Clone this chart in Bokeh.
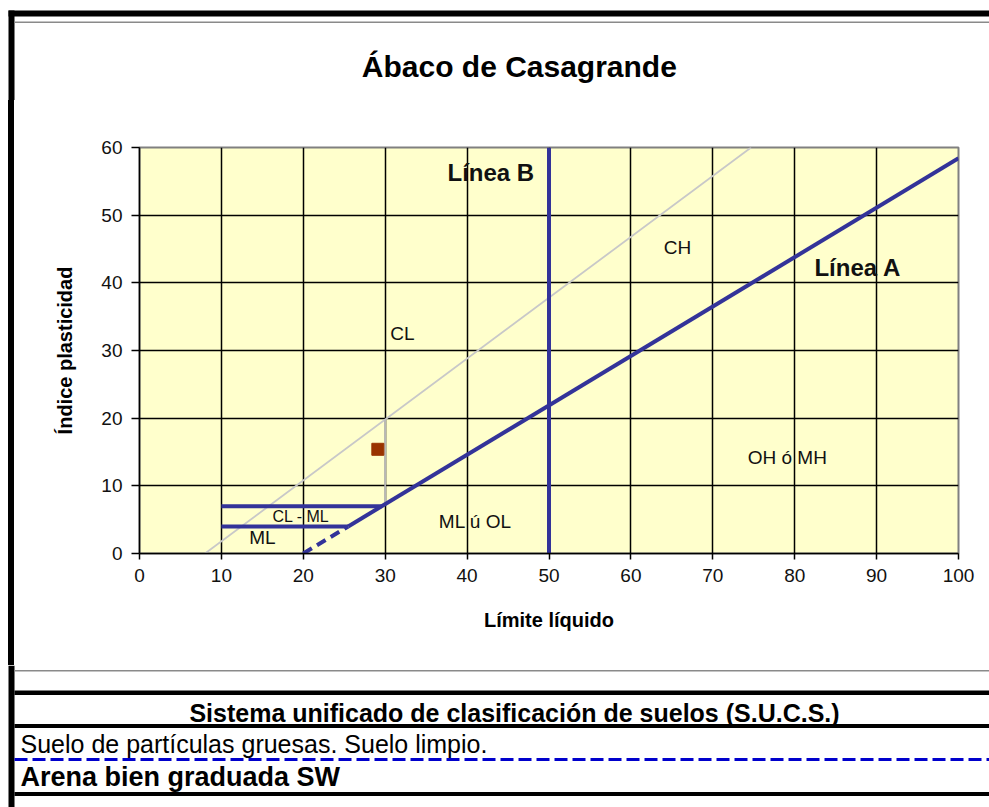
from bokeh.plotting import figure
from bokeh.layouts import column, row
from bokeh.models import Range1d, FixedTicker, Spacer
from bokeh.core.properties import value
from bokeh.embed import file_html
from bokeh.resources import INLINE

# ---------------- data ----------------
ll_ticks = [0, 10, 20, 30, 40, 50, 60, 70, 80, 90, 100]
pi_ticks = [0, 10, 20, 30, 40, 50, 60]

lineA_ll = [25.48, 100.0]          # Línea A: IP = 0.73 (LL - 20)
lineA_pi = [4.0, 58.4]
lineA_ext_ll = [20.0, 25.48]       # dashed extension
lineA_ext_pi = [0.0, 4.0]
lineB_ll = [50.0, 50.0]            # Línea B
lineB_pi = [0.0, 60.0]
lineU_ll = [8.0, 74.67]            # upper limit line (grey)
lineU_pi = [0.0, 60.0]
uvert_ll = [30.0, 30.0]
uvert_pi = [7.3, 19.8]
clml_top_ll = [10.0, 29.59]
clml_top_pi = [7.0, 7.0]
clml_bot_ll = [10.0, 25.48]
clml_bot_pi = [4.0, 4.0]

sample_ll = [29.1]
sample_pi = [15.4]

zone_names = ["CL", "CH", "ML ú OL", "OH ó MH", "ML"]
zone_ll = [32.1, 65.7, 41.0, 79.1, 15.0]
zone_pi = [32.5, 45.2, 4.7, 14.2, 2.4]
small_zone_names = ["CL - ML"]
small_zone_ll = [19.7]
small_zone_pi = [5.5]
line_names = ["Línea B", "Línea A"]
line_names_ll = [42.9, 87.7]
line_names_pi = [56.3, 42.3]

title_text = ["Ábaco  de Casagrande"]
x_label = "Límite líquido"
y_label = "Índice plasticidad"
table_head = ["Sistema unificado de clasificación de suelos (S.U.C.S.)"]
table_row1 = ["Suelo de partículas gruesas. Suelo limpio."]
table_row2 = ["Arena bien graduada SW"]

# ---------------- layout constants (page pixels) ----------------
W, H = 989, 807
TOP_H = 100          # title strip: y 0..100
MID_Y1 = 665         # chart row: y 100..665
LEFT_W = 14          # left border strip
FL, FR, FT, FB = 139, 958, 147, 553   # plot frame
FONT = "Liberation Sans"
BLUE = "#333399"


def deco_fig(x0, y0, w, h):
    f = figure(width=w, height=h, x_range=Range1d(x0, x0 + w), y_range=Range1d(y0 + h, y0),
               output_backend="svg", toolbar_location=None, min_border=0,
               x_axis_type=None, y_axis_type=None, outline_line_color=None,
               background_fill_color="white", border_fill_color="white")
    f.xgrid.visible = False
    f.ygrid.visible = False
    return f


# ---- top strip: outer frame + title
top = deco_fig(0, 0, W, TOP_H)
top.quad(left=[8], right=[W], top=[10], bottom=[16], fill_color="black", line_color=None)
top.quad(left=[8], right=[14], top=[10], bottom=[TOP_H], fill_color="black", line_color=None)
top.quad(left=[14], right=[W], top=[21], bottom=[22.5], fill_color="#8a8a8a", line_color=None)
top.text(x=[523], y=[66], text=title_text, text_align="center", text_baseline="middle",
         text_font=value(FONT), text_font_size="30px", text_font_style="bold",
         text_color="black")

# ---- left border next to the chart (plain boxes, no frame alignment)
CH = MID_Y1 - TOP_H
gap = Spacer(width=8, height=CH)
border = Spacer(width=6, height=CH, styles={"background-color": "black"})

# ---- chart
CW = W - LEFT_W
p = figure(width=CW, height=CH, x_range=Range1d(0, 100), y_range=Range1d(0, 60),
           output_backend="svg", toolbar_location=None,
           min_border_left=FL - LEFT_W, min_border_right=W - FR,
           min_border_top=FT - TOP_H, min_border_bottom=MID_Y1 - FB,
           background_fill_color="#FFFFCC", border_fill_color="white",
           outline_line_color="#808080", outline_line_width=2)

for ax, ticks in ((p.xaxis, ll_ticks), (p.yaxis, pi_ticks)):
    ax.ticker = FixedTicker(ticks=ticks)
    ax.major_label_text_font = FONT
    ax.major_label_text_font_size = "19px"
    ax.major_label_text_color = "#111111"
    ax.axis_line_color = "black"
    ax.axis_line_width = 1.5
    ax.major_tick_line_color = "black"
    ax.major_tick_line_width = 1.5
    ax.major_tick_in = 0
    ax.minor_tick_line_color = None
    ax.axis_label_text_font = FONT
    ax.axis_label_text_font_style = "bold"
    ax.axis_label_text_font_size = "20px"
    ax.axis_label_text_color = "black"

p.xaxis.major_tick_out = 6
p.yaxis.major_tick_out = 8
p.xaxis.major_label_standoff = 9
p.yaxis.major_label_standoff = 9
p.xaxis.axis_label = x_label
p.yaxis.axis_label = y_label
p.xaxis.axis_label_standoff = 24
p.yaxis.axis_label_standoff = 22

p.xgrid.ticker = FixedTicker(ticks=ll_ticks[1:-1])
p.ygrid.ticker = FixedTicker(ticks=pi_ticks[1:-1])
for g in (p.xgrid, p.ygrid):
    g.grid_line_color = "black"
    g.grid_line_width = 1.5
    g.grid_line_alpha = 1.0

p.line(lineU_ll, lineU_pi, line_color="#C8C8C8", line_width=1.8)
p.line(uvert_ll, uvert_pi, line_color="#B8B8B8", line_width=1.8)
p.line(lineB_ll, lineB_pi, line_color=BLUE, line_width=4)
p.line(lineA_ll, lineA_pi, line_color=BLUE, line_width=4)
p.line(lineA_ext_ll, lineA_ext_pi, line_color=BLUE, line_width=4, line_dash="10 6")
p.line(clml_top_ll, clml_top_pi, line_color=BLUE, line_width=4)
p.line(clml_bot_ll, clml_bot_pi, line_color=BLUE, line_width=4)

p.scatter(sample_ll, sample_pi, marker="square", size=12, fill_color="#993300",
          line_color="#993300")

p.text(x=zone_ll, y=zone_pi, text=zone_names, text_align="center",
       text_baseline="middle", text_font=value(FONT), text_font_size="19px",
       text_color="#111111")
p.text(x=small_zone_ll, y=small_zone_pi, text=small_zone_names, text_align="center",
       text_baseline="middle", text_font=value(FONT), text_font_size="16px",
       text_color="#111111")
p.text(x=line_names_ll, y=line_names_pi, text=line_names, text_align="center",
       text_baseline="middle", text_font=value(FONT), text_font_size="24px",
       text_font_style="bold", text_color="#111111")

# ---- bottom table
bot = deco_fig(0, MID_Y1, W, H - MID_Y1)
bot.quad(left=[8], right=[14], top=[MID_Y1], bottom=[H], fill_color="black", line_color=None)
bot.quad(left=[14, 14, 14, 14], right=[W, W, W, W], top=[669.5, 690, 723.5, 791.5],
         bottom=[671, 694.5, 727.5, 795.5],
         fill_color=["#8a8a8a", "black", "black", "black"], line_color=None)
bot.line([14, W], [759, 759], line_color="#0000CC", line_width=3, line_dash="13 5")
bot.text(x=[514], y=[712], text=table_head, text_align="center", text_baseline="middle",
         text_font=value(FONT), text_font_size="25px", text_font_style="bold",
         text_color="black")
bot.text(x=[20], y=[743], text=table_row1, text_align="left", text_baseline="middle",
         text_font=value(FONT), text_font_size="25px", text_color="black")
bot.text(x=[20], y=[776], text=table_row2, text_align="left", text_baseline="middle",
         text_font=value(FONT), text_font_size="27px", text_font_style="bold",
         text_color="black")

layout = column(top, row(gap, border, p), bot)
open("out.html", "w").write(file_html(layout, INLINE))
